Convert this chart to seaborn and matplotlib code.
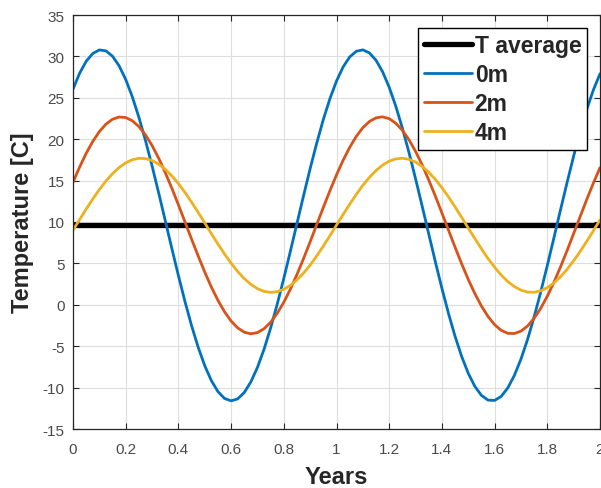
import matplotlib
matplotlib.use("Agg")
import matplotlib.pyplot as plt
import seaborn as sns
from matplotlib.ticker import FuncFormatter

# readings every 0.025 years
years = [0.000, 0.025, 0.050, 0.075, 0.100, 0.125, 0.150, 0.175, 0.200, 0.225,
         0.250, 0.275, 0.300, 0.325, 0.350, 0.375, 0.400, 0.425, 0.450, 0.475,
         0.500, 0.525, 0.550, 0.575, 0.600, 0.625, 0.650, 0.675, 0.700, 0.725,
         0.750, 0.775, 0.800, 0.825, 0.850, 0.875, 0.900, 0.925, 0.950, 0.975,
         1.000, 1.025, 1.050, 1.075, 1.100, 1.125, 1.150, 1.175, 1.200, 1.225,
         1.250, 1.275, 1.300, 1.325, 1.350, 1.375, 1.400, 1.425, 1.450, 1.475,
         1.500, 1.525, 1.550, 1.575, 1.600, 1.625, 1.650, 1.675, 1.700, 1.725,
         1.750, 1.775, 1.800, 1.825, 1.850, 1.875, 1.900, 1.925, 1.950, 1.975,
         2.000]

t_average = 9.6

temp_0m = [26.05, 27.96, 29.41, 30.35, 30.78, 30.67, 30.02, 28.86, 27.22, 25.13,
           22.65, 19.85, 16.78, 13.53, 10.18, 6.82, 3.53, 0.39, -2.52, -5.12,
           -7.35, -9.15, -10.48, -11.31, -11.60, -11.36, -10.59, -9.31, -7.56, -5.37,
           -2.80, 0.07, 3.19, 6.47, 9.83, 13.18, 16.45, 19.53, 22.38, 24.89,
           27.02, 28.72, 29.93, 30.62, 30.79, 30.42, 29.53, 28.14, 26.27, 23.99,
           21.34, 18.40, 15.23, 11.93, 8.56, 5.22, 1.99, -1.04, -3.81, -6.24,
           -8.27, -9.85, -10.94, -11.51, -11.55, -11.06, -10.04, -8.53, -6.56, -4.19,
           -1.46, 1.54, 4.75, 8.07, 11.45, 14.76, 17.96, 20.93, 23.63, 25.96,
           27.90]

temp_2m = [14.79, 16.63, 18.29, 19.73, 20.92, 21.82, 22.41, 22.68, 22.62, 22.23,
           21.53, 20.52, 19.24, 17.71, 15.98, 14.09, 12.08, 10.01, 7.93, 5.90,
           3.95, 2.15, 0.54, -0.84, -1.96, -2.79, -3.31, -3.50, -3.36, -2.89,
           -2.11, -1.03, 0.31, 1.89, 3.66, 5.59, 7.61, 9.69, 11.76, 13.78,
           15.69, 17.45, 19.01, 20.34, 21.39, 22.14, 22.58, 22.70, 22.48, 21.93,
           21.08, 19.94, 18.53, 16.91, 15.08, 13.14, 11.09, 9.02, 6.95, 4.95,
           3.07, 1.36, -0.15, -1.41, -2.40, -3.08, -3.44, -3.47, -3.18, -2.56,
           -1.63, -0.42, 1.04, 2.71, 4.57, 6.54, 8.61, 10.68, 12.74, 14.71,
           16.56]

temp_4m = [9.00, 10.29, 11.56, 12.78, 13.92, 14.95, 15.84, 16.58, 17.14, 17.52,
           17.69, 17.66, 17.42, 16.99, 16.37, 15.58, 14.64, 13.57, 12.40, 11.17,
           9.89, 8.60, 7.34, 6.14, 5.02, 4.02, 3.16, 2.47, 1.95, 1.62,
           1.50, 1.58, 1.87, 2.34, 3.00, 3.83, 4.80, 5.90, 7.09, 8.34,
           9.62, 10.90, 12.15, 13.33, 14.43, 15.39, 16.22, 16.87, 17.35, 17.62,
           17.70, 17.57, 17.24, 16.72, 16.01, 15.15, 14.14, 13.03, 11.82, 10.56,
           9.27, 8.00, 6.76, 5.59, 4.53, 3.59, 2.81, 2.20, 1.77, 1.54,
           1.51, 1.69, 2.07, 2.64, 3.38, 4.28, 5.32, 6.46, 7.68, 8.95,
           10.24]

x_ticks = [0, 0.2, 0.4, 0.6, 0.8, 1.0, 1.2, 1.4, 1.6, 1.8, 2.0]
y_ticks = [-15, -10, -5, 0, 5, 10, 15, 20, 25, 30, 35]

sns.set_style("white")
plt.rcParams['font.family'] = ['Liberation Sans', 'DejaVu Sans']
plt.rcParams['axes.unicode_minus'] = False

fig = plt.figure(figsize=(6.01, 4.89), dpi=100)
ax = fig.add_axes([73 / 601, 1 - 430 / 489, 527 / 601, 414 / 489])

series = [
    ("T average", [t_average] * len(years), "black", 3.8),
    ("0m", temp_0m, "#0072BD", 2.0),
    ("2m", temp_2m, "#D95319", 2.0),
    ("4m", temp_4m, "#EDB120", 2.0),
]
for name, vals, col, lw in series:
    sns.lineplot(x=years, y=vals, color=col, linewidth=lw, label=name, ax=ax)

ax.set_xlim(0, 2)
ax.set_ylim(-15, 35)
ax.set_xticks(x_ticks)
ax.set_yticks(y_ticks)
ax.xaxis.set_major_formatter(FuncFormatter(lambda v, p: f"{v:g}"))
ax.yaxis.set_major_formatter(FuncFormatter(lambda v, p: f"{v:g}"))
ax.grid(True, color="#dedede", linewidth=0.8)
ax.set_axisbelow(True)
ax.tick_params(direction="in", length=4, width=0.8, bottom=True, left=True,
               top=True, right=True, color="#262626", labelcolor="#4a4a4a",
               labelsize=11, pad=6)
ax.tick_params(axis="x", pad=9.5)
for sp in ax.spines.values():
    sp.set_color("#262626")
    sp.set_linewidth(0.9)

ax.set_xlabel("Years", fontsize=17, fontweight="bold", color="#262626", labelpad=6)
ax.set_ylabel("Temperature [C]", fontsize=17, fontweight="bold", color="#262626", labelpad=6)

leg = ax.legend(loc="upper right", prop=dict(weight="bold", size=16.5), frameon=True,
                fancybox=False, edgecolor="black", framealpha=1, handlelength=2.1,
                handletextpad=0.12, labelspacing=0.27, borderpad=0.25, borderaxespad=0.56)
leg.get_frame().set_linewidth(1.0)
for t in leg.get_texts():
    t.set_color("#262626")

fig.savefig("out.png", dpi=100)
